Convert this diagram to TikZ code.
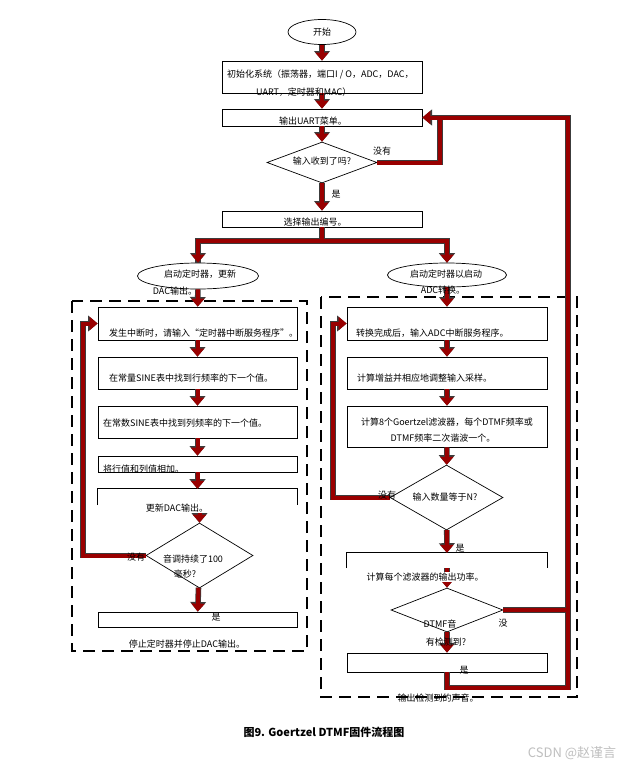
\documentclass[tikz,border=0pt]{standalone}
\usepackage{fontspec}
\setmainfont{Noto Sans CJK SC}
\usetikzlibrary{shapes.geometric,arrows.meta}
\definecolor{arrowred}{RGB}{153,0,0}
\definecolor{arrowedge}{RGB}{60,60,60}

\begin{document}
\begin{tikzpicture}[x=1pt,y=-1pt,font=\fontsize{9}{10}\selectfont,
	box/.style={draw,line width=0.8pt,minimum width=200pt,inner sep=0pt},
	term/.style={draw,ellipse,line width=0.7pt,inner sep=0pt},
	test/.style={draw,diamond,line width=0.7pt,inner sep=0pt},
	txt/.style={inner sep=0pt},
	flow/.style={line width=4pt,draw=arrowred,-{Triangle[width=13pt,length=8pt]},
		preaction={draw=arrowedge,line width=5.6pt,-{Triangle[width=15.5pt,length=9.6pt]}}},
	pipe/.style={line width=4pt,draw=arrowred,preaction={draw=arrowedge,line width=5.6pt}},
	patch/.style={line width=4pt,draw=arrowred},
	frame/.style={line width=2.2pt,dash pattern=on 12pt off 7pt}]
	
	\useasboundingbox[fill=white] (0,0) rectangle (638,772);
	
	% dashed frames
	\draw[frame] (72,301) rectangle (307,651);
	\draw[frame] (321,297) rectangle (577,697);
	
	% main column
	\node[term,minimum width=68pt,minimum height=25pt] (start) at (322,32) {开始};
	\node[box,minimum height=32pt] (init) at (322,77) {};
	\node[box,minimum height=17pt] (menu) at (322,117.5) {};
	\node[test,minimum width=110pt,minimum height=41pt] (ask) at (322,162.5) {};
	\node[box,minimum height=16pt] (select) at (322,219) {};
	
	\node[term,minimum width=121pt,minimum height=26pt] (tmrL) at (198,276) {};
	\node[term,minimum width=119pt,minimum height=24pt] (tmrR) at (447,275) {};
	
	% timer branch
	\node[box,minimum width=199pt,minimum height=33pt] (isrL) at (197.5,323.5) {};
	\node[box,minimum width=199pt,minimum height=32pt] (rowL) at (197.5,373) {};
	\node[box,minimum width=199pt,minimum height=32pt] (colL) at (197.5,422) {};
	\node[box,minimum width=199pt,minimum height=16pt] (addL) at (197.5,464) {};
	\node[inner sep=0pt,minimum width=199pt,minimum height=16pt] (dacL) at (197.5,497) {};
	\draw[line width=0.8pt] (dacL.south west) -- (dacL.north west) -- (dacL.north east) -- (dacL.south east);
	\node[test,minimum width=107pt,minimum height=65pt] (toneQ) at (199.5,555.5) {};
	\node[box,minimum width=199pt,minimum height=15pt] (stopL) at (197.5,619.5) {};
	
	% ADC branch
	\node[box,minimum height=33pt] (isrR) at (447,323.5) {};
	\node[box,minimum height=32pt] (gainR) at (447,373) {};
	\node[box,minimum height=41pt] (goeR) at (447,426.5) {};
	\node[test,minimum width=113pt,minimum height=65pt] (cntQ) at (446.5,497.5) {};
	\node[inner sep=0pt,minimum width=200pt,minimum height=15pt] (powR) at (447,560.5) {};
	\draw[line width=0.8pt] (powR.south west) -- (powR.north west) -- (powR.north east) -- (powR.south east);
	\node[test,minimum width=112pt,minimum height=44pt] (dtmfQ) at (447,610) {};
	\node[box,minimum height=19pt] (outR) at (447,662.5) {};
	
	\coordinate (jTop) at (440,117.5);
	\coordinate (rTop) at (568,117.5);
	\coordinate (rBot) at (568,687.5);
	\coordinate (split) at (322,241);
	\coordinate (loopL) at (83,323.5);
	\coordinate (loopR) at (333,323.5);
	
	% connectors
	\draw[flow] (start) -- (init);
	\draw[flow] (init) -- (menu);
	\draw[flow] (menu) -- (ask);
	\draw[flow] (ask) -- (select);
	\draw[pipe] (dtmfQ.east) -- (dtmfQ.east -| rBot);
	\draw[pipe] (outR.south) |- (rBot) -- (rTop) -- (jTop);
	\draw[flow] (ask.east) -| (jTop) -- (menu.east);
	\draw[patch] (rTop) -- (jTop);
	\draw[patch] (dtmfQ.east) -- (dtmfQ.east -| rBot);
	\draw[pipe] (select.south) -- (split);
	\draw[flow,{Triangle[width=13pt,length=8pt]}-{Triangle[width=13pt,length=8pt]},
		preaction={draw=arrowedge,line width=5.6pt,{Triangle[width=15.5pt,length=9.6pt]}-{Triangle[width=15.5pt,length=9.6pt]}}]
		(tmrL.north) |- (split) -| (tmrR.north);
	\draw[patch] (select.south) -- (split);
	
	\draw[flow] (tmrL) -- (isrL);
	\draw[flow] (isrL) -- (rowL);
	\draw[flow] (rowL) -- (colL);
	\draw[flow] (colL) -- (addL);
	\draw[flow] (addL) -- (dacL);
	\draw[flow] (dacL.south -| toneQ.north) -- (toneQ.north);
	\draw[flow] (toneQ) -- (stopL);
	\draw[flow] (toneQ.west) -| (loopL) -- (isrL.west);
	
	\draw[flow] (tmrR) -- (isrR);
	\draw[flow] (isrR) -- (gainR);
	\draw[flow] (gainR) -- (goeR);
	\draw[flow] (goeR) -- (cntQ);
	\draw[flow] (cntQ) -- (powR);
	\draw[flow] (powR.south) -- (dtmfQ.north);
	\draw[flow] (dtmfQ) -- (outR);
	\draw[flow] (cntQ.west) -| (loopR) -- (isrR.west);
	
	% texts
	\node[txt,anchor=west] (initA) at (227,74) {初始化系统（振荡器，端口I / O，ADC，DAC，};
	\node[txt,anchor=west] (initB) at (256,92) {UART，定时器和MAC）};
	\node[txt] (menuT) at (313,121) {输出UART菜单。};
	\node[txt] (askT) at (322,161) {输入收到了吗?};
	\node[txt] (askNo) at (382,151) {没有};
	\node[txt] (askYes) at (336,194) {是};
	\node[txt] (selectT) at (315,222) {选择输出编号。};
	\node[txt] (tmrLA) at (200,274) {启动定时器，更新};
	\node[txt] (tmrLB) at (175,291) {DAC输出。};
	\node[txt] (tmrRA) at (446,274) {启动定时器以启动};
	\node[txt] (tmrRB) at (443,290) {ADC转换。};
	
	\node[txt,anchor=west] (isrLT) at (109,333) {发生中断时，请输入“定时器中断服务程序”。};
	\node[txt,anchor=west] (rowLT) at (109,378) {在常量SINE表中找到行频率的下一个值。};
	\node[txt,anchor=west] (colLT) at (103,423) {在常数SINE表中找到列频率的下一个值。};
	\node[txt,anchor=west] (addLT) at (103,469) {将行值和列值相加。};
	\node[txt,fill=white,inner sep=1pt] (dacLT) at (177,508) {更新DAC输出。};
	\node[txt] (toneQA) at (193,559) {音调持续了100};
	\node[txt] (toneQB) at (185,574) {毫秒?};
	\node[txt] (toneNo) at (136,557) {没有};
	\node[txt] (toneYes) at (216,617) {是};
	\node[txt] (stopLT) at (187,644) {停止定时器并停止DAC输出。};
	
	\node[txt,anchor=west] (isrRT) at (356,333) {转换完成后，输入ADC中断服务程序。};
	\node[txt,anchor=west] (gainRT) at (357,378) {计算增益并相应地调整输入采样。};
	\node[txt] (goeRA) at (447,422) {计算8个Goertzel滤波器，每个DTMF频率或};
	\node[txt] (goeRB) at (443,438) {DTMF频率二次谐波一个。};
	\node[txt] (cntQT) at (445,497) {输入数量等于N?};
	\node[txt] (cntNo) at (387,495) {没有};
	\node[txt] (cntYes) at (460,548) {是};
	\node[txt,fill=white,inner sep=1pt] (powRT) at (425,577) {计算每个滤波器的输出功率。};
	\node[txt] (dtmfQA) at (440,624) {DTMF音};
	\node[txt] (dtmfQB) at (446,642) {有检测到?};
	\node[txt] (dtmfNo) at (503,623) {没};
	\node[txt] (outYes) at (464,670) {是};
	\node[txt] (outRT) at (438,698) {输出检测到的声音。};
	
	\node[txt,font=\fontsize{11}{12}\selectfont\bfseries] (caption) at (324,732) {图9. Goertzel DTMF固件流程图};
	\node[txt,font=\fontsize{13}{14}\selectfont,text=black!25] (mark) at (572,753) {CSDN @赵谨言};
	
\end{tikzpicture}
\end{document}
